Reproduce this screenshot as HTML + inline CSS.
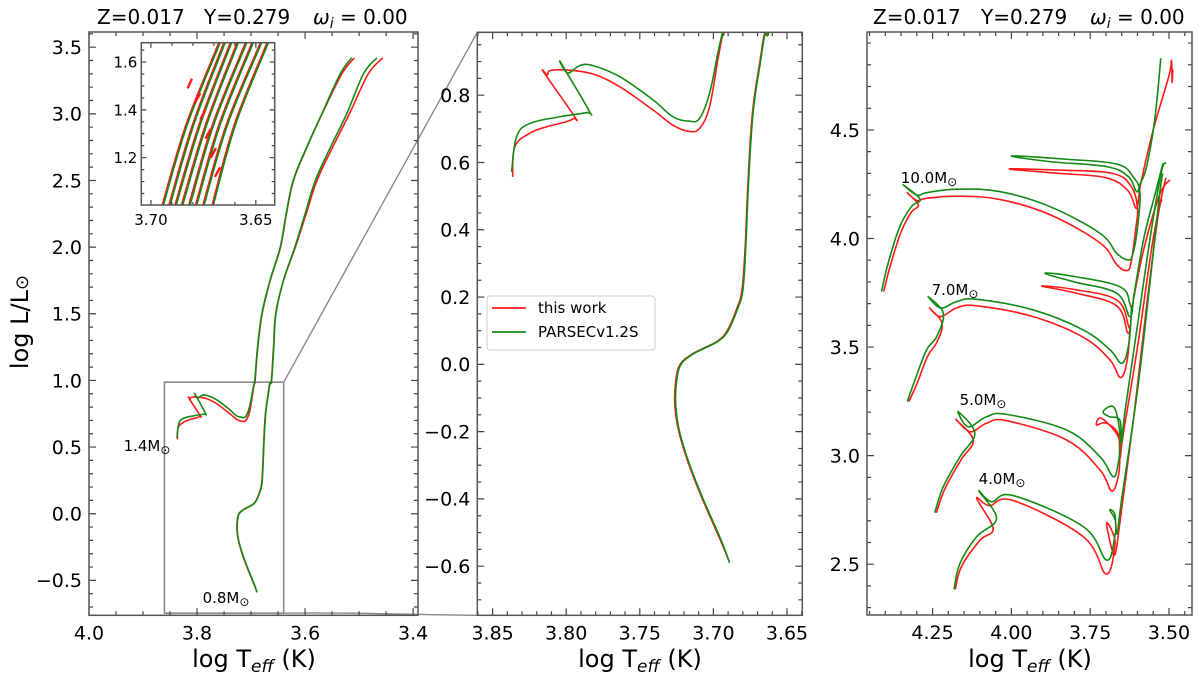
<!DOCTYPE html>
<html><head><meta charset="utf-8">
<style>
html,body{margin:0;padding:0;background:#fff;}
svg{display:block;font-family:"DejaVu Sans","Liberation Sans",sans-serif;}
</style></head>
<body>
<svg id="fig" width="1200" height="679" viewBox="0 0 1200 679" xmlns="http://www.w3.org/2000/svg">
<g font-size="20">
<text x="97" y="24">Z=0.017</text><text x="204" y="24">Y=0.279</text>
<text x="313" y="24"><tspan font-style="italic">ω</tspan><tspan font-style="italic" font-size="14" dy="4">i</tspan><tspan dy="-4"> = 0.00</tspan></text>
</g>
<g font-size="20">
<text x="873" y="24">Z=0.017</text><text x="981" y="24">Y=0.279</text>
<text x="1090" y="24"><tspan font-style="italic">ω</tspan><tspan font-style="italic" font-size="14" dy="4">i</tspan><tspan dy="-4"> = 0.00</tspan></text>
</g>
<text transform="translate(28,322) rotate(-90)" font-size="24" text-anchor="middle">log L/L<tspan font-size="18">⊙</tspan></text>
<text x="254" y="667" font-size="24" text-anchor="middle">log T<tspan font-style="italic" font-size="17" dy="5">eff</tspan><tspan dy="-5"> (K)</tspan></text>
<text x="640" y="667" font-size="24" text-anchor="middle">log T<tspan font-style="italic" font-size="17" dy="5">eff</tspan><tspan dy="-5"> (K)</tspan></text>
<text x="1030" y="667" font-size="24" text-anchor="middle">log T<tspan font-style="italic" font-size="17" dy="5">eff</tspan><tspan dy="-5"> (K)</tspan></text>
</svg>
<script>
// ---- data: tracks [logTeff, logL] ----
const trk08Green = [[3.689,-0.59],[3.695,-0.52],[3.707,-0.40],[3.716,-0.30],[3.723,-0.20],[3.7256,-0.12],[3.725,-0.05],[3.722,0.0],[3.714,0.03],[3.705,0.05],[3.696,0.071],[3.690,0.10],[3.684,0.16],[3.680,0.22],[3.678,0.35],[3.676,0.55],[3.673,0.75],[3.668,0.9],[3.665,0.98],[3.662,1.0],[3.658,1.25],[3.654,1.5],[3.640,1.75],[3.619,2.0],[3.600,2.25],[3.581,2.5],[3.553,2.75],[3.523,3.0],[3.492,3.3],[3.467,3.42]];
const trk08Red = [[3.6893,-0.585],[3.6955,-0.52],[3.7075,-0.40],[3.7165,-0.30],[3.7235,-0.20],[3.7262,-0.12],[3.7256,-0.05],[3.7226,0.0],[3.7146,0.03],[3.7056,0.05],[3.6966,0.071],[3.6906,0.10],[3.6846,0.16],[3.6806,0.22],[3.6784,0.35],[3.6764,0.55],[3.6734,0.75],[3.6684,0.9],[3.6654,0.98],[3.6624,1.0],[3.6584,1.25],[3.6544,1.5],[3.640,1.75],[3.618,2.0],[3.598,2.25],[3.578,2.5],[3.549,2.75],[3.518,3.0],[3.483,3.3],[3.456,3.42]];
const trk14Green = [[3.8371,0.572],[3.8337,0.677],[3.8247,0.716],[3.8043,0.736],[3.7862,0.748],[3.7845,0.754],[3.8037,0.897],[3.799,0.866],[3.7908,0.888],[3.7818,0.888],[3.7636,0.855],[3.741,0.786],[3.7275,0.736],[3.7166,0.723],[3.7094,0.731],[3.7026,0.806],[3.697,0.925],[3.694,0.984],[3.693,1.0],[3.688,1.25],[3.680,1.5],[3.665,1.75],[3.646,2.0],[3.635,2.25],[3.622,2.5],[3.597,2.75],[3.569,3.0],[3.535,3.3],[3.514,3.42]];
const trk14Red = [[3.8364,0.557],[3.8349,0.647],[3.8247,0.687],[3.8134,0.706],[3.800,0.721],[3.7948,0.731],[3.7942,0.736],[3.8152,0.868],[3.8127,0.860],[3.811,0.873],[3.800,0.875],[3.7818,0.863],[3.7636,0.825],[3.741,0.756],[3.7275,0.711],[3.7173,0.693],[3.7094,0.701],[3.7026,0.766],[3.697,0.905],[3.6935,0.984],[3.6925,1.0],[3.6875,1.25],[3.6795,1.5],[3.6645,1.75],[3.6455,2.0],[3.6345,2.25],[3.6215,2.5],[3.5965,2.75],[3.5685,3.0],[3.532,3.3],[3.509,3.42]];

const m10Green = [[4.412,3.755],[4.391,3.886],[4.354,4.055],[4.317,4.147],[4.290,4.182],[4.343,4.247],[4.300,4.200],[4.269,4.211],[4.174,4.227],[4.037,4.216],[3.878,4.147],[3.719,4.024],[3.666,3.932],[3.629,3.901],[3.614,3.932],[3.600,4.05],[3.592,4.209],[3.614,4.285],[3.666,4.343],[3.825,4.365],[3.999,4.380],[3.878,4.354],[3.698,4.331],[3.629,4.285],[3.603,4.216],[3.592,4.25],[3.571,4.331],[3.545,4.55],[3.526,4.830]];
const m10Red = [[4.405,3.755],[4.385,3.87],[4.350,4.03],[4.318,4.12],[4.295,4.155],[4.33,4.21],[4.30,4.175],[4.269,4.185],[4.174,4.195],[4.037,4.180],[3.878,4.11],[3.719,3.98],[3.666,3.88],[3.634,3.852],[3.62,3.89],[3.605,4.05],[3.60,4.14],[3.62,4.24],[3.68,4.30],[3.85,4.315],[4.007,4.320],[3.85,4.30],[3.70,4.28],[3.63,4.22],[3.603,4.139],[3.59,4.25],[3.55,4.5],[3.50,4.75],[3.492,4.82],[3.49,4.72],[3.488,4.78]];
const m7Green = [[4.330,3.249],[4.306,3.348],[4.269,3.487],[4.237,3.548],[4.216,3.656],[4.264,3.732],[4.225,3.68],[4.174,3.709],[4.110,3.720],[3.931,3.671],[3.772,3.579],[3.687,3.487],[3.650,3.425],[3.629,3.502],[3.620,3.65],[3.624,3.70],[3.656,3.778],[3.80,3.825],[3.894,3.840],[3.80,3.80],[3.666,3.748],[3.624,3.640],[3.610,3.75],[3.580,4.0],[3.545,4.2],[3.519,4.347]];
const m7Red = [[4.325,3.249],[4.300,3.33],[4.265,3.46],[4.237,3.52],[4.22,3.61],[4.26,3.68],[4.225,3.64],[4.174,3.68],[4.110,3.69],[3.931,3.64],[3.772,3.545],[3.687,3.44],[3.655,3.36],[3.635,3.42],[3.625,3.56],[3.629,3.60],[3.666,3.717],[3.80,3.765],[3.904,3.781],[3.80,3.75],[3.666,3.69],[3.629,3.564],[3.615,3.70],[3.580,3.95],[3.530,4.2],[3.497,4.270]];
const m5Green = [[4.243,2.737],[4.216,2.857],[4.163,2.995],[4.116,3.103],[4.169,3.203],[4.137,3.133],[4.079,3.179],[4.015,3.190],[3.825,3.118],[3.719,2.995],[3.677,2.903],[3.661,2.965],[3.655,3.05],[3.660,3.15],[3.677,3.226],[3.709,3.203],[3.69,3.18],[3.656,3.164],[3.650,3.064],[3.640,3.2],[3.600,3.6],[3.560,4.0],[3.525,4.3],[3.510,4.35]];
const m5Red = [[4.238,2.737],[4.21,2.85],[4.16,2.98],[4.121,3.072],[4.176,3.167],[4.13,3.11],[4.079,3.149],[4.015,3.161],[3.825,3.072],[3.719,2.934],[3.682,2.837],[3.661,2.903],[3.656,2.99],[3.661,3.087],[3.714,3.172],[3.730,3.141],[3.70,3.15],[3.661,3.10],[3.656,2.988],[3.645,3.1],[3.600,3.5],[3.550,4.0],[3.510,4.28]];
const m4Green = [[4.182,2.384],[4.163,2.504],[4.110,2.627],[4.047,2.711],[4.103,2.837],[4.063,2.788],[3.994,2.816],[3.772,2.673],[3.698,2.519],[3.672,2.627],[3.670,2.70],[3.688,2.750],[3.672,2.73],[3.665,2.64],[3.650,2.8],[3.600,3.3],[3.560,3.8],[3.530,4.2],[3.520,4.3]];
const m4Red = [[4.178,2.384],[4.158,2.49],[4.10,2.61],[4.058,2.665],[4.110,2.803],[4.07,2.77],[3.994,2.793],[3.772,2.627],[3.700,2.455],[3.672,2.581],[3.68,2.65],[3.698,2.688],[3.682,2.573],[3.670,2.55],[3.655,2.7],[3.610,3.2],[3.570,3.7],[3.535,4.1],[3.522,4.18]];

// inset RGB tracks: logTeff at logL = 1.0, 1.34, 1.68
const insetBottom = [3.6941,3.6909,3.688,3.6849,3.6814,3.6782,3.6747,3.6703];
const insetMid    = [3.6826,3.6795,3.6764,3.6733,3.6700,3.6669,3.6634,3.6596];
const insetTop    = [3.6671,3.6647,3.6616,3.6584,3.6544,3.6513,3.6473,3.6441];
const insetLevels = [1.0,1.34,1.68];
const insetBumps = [[3.6825,1.49,3.6805,1.53],[3.679,1.43,3.6765,1.47],[3.6765,1.36,3.674,1.40],[3.674,1.28,3.6715,1.32],[3.6715,1.20,3.669,1.24],[3.6695,1.12,3.667,1.16]];

const massLabels = [["1.4M",0,147,451],["0.8M",0,226,603],["10.0M",2,929,183],["7.0M",2,955,295],["5.0M",2,983,405],["4.0M",2,1002,484]];

const P = [
 {name:"left",  px0:89, px1:418, x0:4.0, x1:3.391, py0:615.3, py1:32, y0:-0.762, y1:3.614,
  xt:[4.0,3.8,3.6,3.4], xlab:["4.0","3.8","3.6","3.4"], xmin:0.05, yt:[-0.5,0,0.5,1,1.5,2,2.5,3,3.5], ylab:["−0.5","0.0","0.5","1.0","1.5","2.0","2.5","3.0","3.5"], ymin:0.1, fs:19},
 {name:"middle",px0:477.3, px1:802.3, x0:3.8604, x1:3.6396, py0:615.3, py1:32.3, y0:-0.746, y1:0.987,
  xt:[3.85,3.8,3.75,3.7,3.65], xlab:["3.85","3.80","3.75","3.70","3.65"], xmin:0.01, yt:[-0.6,-0.4,-0.2,0,0.2,0.4,0.6,0.8], ylab:["−0.6","−0.4","−0.2","0.0","0.2","0.4","0.6","0.8"], ymin:0.05, fs:19},
 {name:"right", px0:867, px1:1192, x0:4.458, x1:3.427, py0:615, py1:32, y0:2.266, y1:4.951,
  xt:[4.25,4.0,3.75,3.5], xlab:["4.25","4.00","3.75","3.50"], xmin:0.05, yt:[2.5,3,3.5,4,4.5], ylab:["2.5","3.0","3.5","4.0","4.5"], ymin:0.1, fs:19},
 {name:"inset", px0:141.3, px1:274.7, x0:3.7046, x1:3.641, py0:205, py1:42.7, y0:1.002, y1:1.681,
  xt:[3.70,3.65], xlab:["3.70","3.65"], xmin:0.01, yt:[1.2,1.4,1.6], ylab:["1.2","1.4","1.6"], ymin:0.05, fs:15}
];
const NS="http://www.w3.org/2000/svg";
const svg=document.getElementById('fig');
function mk(t,a,parent){const e=document.createElementNS(NS,t);for(const k in a)e.setAttribute(k,a[k]);(parent||svg).appendChild(e);return e;}
function sx(p,v){return p.px0+(v-p.x0)/(p.x1-p.x0)*(p.px1-p.px0);}
function sy(p,v){return p.py0+(v-p.y0)/(p.y1-p.y0)*(p.py1-p.py0);}
const defs=mk('defs',{});
P.forEach((p,i)=>{const c=mk('clipPath',{id:'clip'+i},defs);mk('rect',{x:p.px0,y:p.py1,width:p.px1-p.px0,height:p.py0-p.py1},c);});

function smoothPath(pts){
  let d='M'+pts[0][0].toFixed(2)+','+pts[0][1].toFixed(2);
  const t=0.18;
  for(let i=0;i<pts.length-1;i++){
    const p0=pts[Math.max(0,i-1)],p1=pts[i],p2=pts[i+1],p3=pts[Math.min(pts.length-1,i+2)];
    const c1=[p1[0]+(p2[0]-p0[0])*t,p1[1]+(p2[1]-p0[1])*t];
    const c2=[p2[0]-(p3[0]-p1[0])*t,p2[1]-(p3[1]-p1[1])*t];
    d+=`C${c1[0].toFixed(2)},${c1[1].toFixed(2)} ${c2[0].toFixed(2)},${c2[1].toFixed(2)} ${p2[0].toFixed(2)},${p2[1].toFixed(2)}`;
  }
  return d;
}
function drawTrack(pi,data,color,name){
  const p=P[pi];
  const pts=data.map(q=>[sx(p,q[0]),sy(p,q[1])]);
  const e=mk('path',{d:smoothPath(pts),fill:'none',stroke:color,'stroke-width':1.6,'stroke-linejoin':'round','clip-path':'url(#clip'+pi+')'});
  
  
}
function drawAxes(pi){
  const p=P[pi];
  const g=mk('g',{});
  
  
  const L=pi==3?5:7, l=pi==3?3:4;
  let d='';
  const xa=Math.min(p.x0,p.x1), xb=Math.max(p.x0,p.x1);
  for(let k=Math.ceil(xa/p.xmin-1e-6);k*p.xmin<=xb+1e-9;k++){const v=k*p.xmin;const X=sx(p,v);
    const major=p.xt.some(t=>Math.abs(t-v)<1e-6);const len=major?L:l;
    d+=`M${X},${p.py0}v${-len}M${X},${p.py1}v${len}`;}
  for(let k=Math.ceil(p.y0/p.ymin-1e-6);k*p.ymin<=p.y1+1e-9;k++){const v=k*p.ymin;const Y=sy(p,v);
    const major=p.yt.some(t=>Math.abs(t-v)<1e-6);const len=major?L:l;
    d+=`M${p.px0},${Y}h${len}M${p.px1},${Y}h${-len}`;}
  mk('path',{d:d,stroke:'#444','stroke-width':1.2,fill:'none'},g);
  mk('rect',{x:p.px0,y:p.py1,width:p.px1-p.px0,height:p.py0-p.py1,fill:'none',stroke:'#555','stroke-width':1.5},g);
  p.xt.forEach((t,i)=>{const e=mk('text',{x:sx(p,t),y:p.py0+p.fs+5,'font-size':p.fs,'text-anchor':'middle'},g);e.textContent=p.xlab[i];
    
    });
  p.yt.forEach((t,i)=>{const e=mk('text',{x:p.px0-(pi==3?4:7),y:sy(p,t)+p.fs*0.36,'font-size':p.fs,'text-anchor':'end'},g);e.textContent=p.ylab[i];
    
    });
}
const RED='#ff1a1a', GREEN='#138a13';
const zb=mk('rect',{x:sx(P[0],P[1].x0),y:sy(P[0],P[1].y1),width:sx(P[0],P[1].x1)-sx(P[0],P[1].x0),height:sy(P[0],P[1].y0)-sy(P[0],P[1].y1),fill:'none',stroke:'#888','stroke-width':1.6});


const c1=mk('line',{x1:sx(P[0],P[1].x1),y1:sy(P[0],P[1].y1),x2:P[1].px0,y2:P[1].py1,stroke:'#888','stroke-width':1.4});


const c2=mk('path',{d:`M${sx(P[0],P[1].x1)},${sy(P[0],P[1].y0)}C350,612 420,615 ${P[1].px0},${P[1].py0}`,fill:'none',stroke:'#888','stroke-width':1.4});



[0,1].forEach(pi=>{
  drawTrack(pi,trk08Red,RED,'track-0.8-this-work');
  drawTrack(pi,trk08Green,GREEN,'track-0.8-parsec');
  drawTrack(pi,trk14Red,RED,'track-1.4-this-work');
  drawTrack(pi,trk14Green,GREEN,'track-1.4-parsec');
});
[[m10Red,m10Green,'10'],[m7Red,m7Green,'7'],[m5Red,m5Green,'5'],[m4Red,m4Green,'4']].forEach(t=>{
  drawTrack(2,t[0],RED,'track-'+t[2]+'-this-work');
  drawTrack(2,t[1],GREEN,'track-'+t[2]+'-parsec');
});
drawAxes(0);drawAxes(1);drawAxes(2);
const ib=mk('rect',{x:P[3].px0,y:P[3].py1,width:P[3].px1-P[3].px0,height:P[3].py0-P[3].py1,fill:'#fff'});


insetBottom.forEach((b,i)=>{
  const g=[[b,insetLevels[0]],[insetMid[i],insetLevels[1]],[insetTop[i],insetLevels[2]]];
  const ext=[[b+(b-insetMid[i])*0.1,insetLevels[0]-0.04],...g,[insetTop[i]-0.002,insetLevels[2]+0.05]];
  const extr=ext.map(q=>[q[0]+0.0006,q[1]]);
  drawTrack(3,extr,RED,'inset-track-this-work');
  drawTrack(3,ext,GREEN,'inset-track-parsec');
});
insetBumps.forEach(s=>{
  const p=P[3];
  const e=mk('line',{x1:sx(p,s[0]),y1:sy(p,s[1]),x2:sx(p,s[2]),y2:sy(p,s[3]),stroke:RED,'stroke-width':2.4,'clip-path':'url(#clip3)'});
  
  
});
drawAxes(3);
massLabels.forEach(m=>{
  const t=mk('text',{x:m[2],y:m[3],'font-size':15,'text-anchor':'middle'});
  t.textContent=m[0];
  const ts=mk('tspan',{'font-size':12,dy:3},t);ts.textContent='⊙';
  
  
});
const lg=mk('g',{});


mk('rect',{x:487,y:296,width:168,height:54,rx:3,fill:'#fff',stroke:'#ccc','stroke-width':1},lg);
const items=[["this work",RED,313],["PARSECv1.2S",GREEN,337]];
items.forEach(it=>{
  const g=mk('g',{},lg);
  
  
  mk('line',{x1:492,x2:526,y1:it[2]-5,y2:it[2]-5,stroke:it[1],'stroke-width':1.8},g);
  const t=mk('text',{x:538,y:it[2],'font-size':15},g);t.textContent=it[0];
});
</script>
</body></html>
